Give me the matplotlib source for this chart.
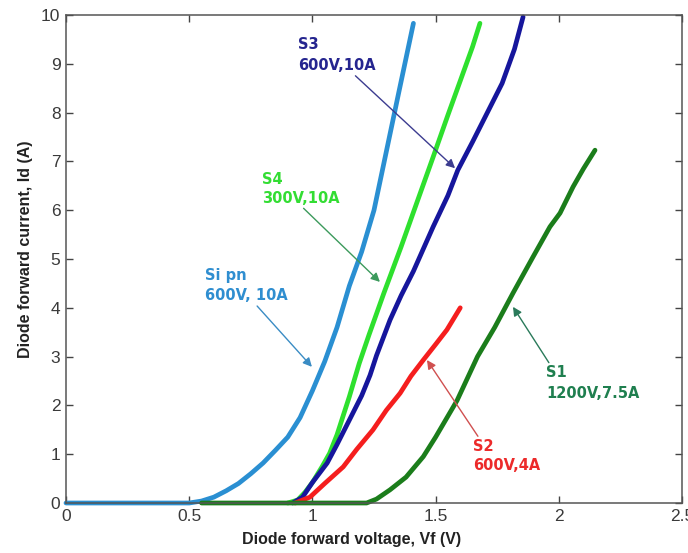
import matplotlib
matplotlib.use('Agg')
import matplotlib.pyplot as plt

# Forward I-V curves (V in volts, I in amps)
si_v = [0.00, 0.50, 0.55, 0.60, 0.65, 0.70, 0.75, 0.80, 0.85, 0.90, 0.95,
        1.00, 1.05, 1.10, 1.15, 1.20, 1.25, 1.30, 1.35, 1.41]
si_i = [0.00, 0.00, 0.04, 0.12, 0.25, 0.40, 0.60, 0.82, 1.08, 1.35, 1.75,
        2.30, 2.90, 3.60, 4.45, 5.15, 6.00, 7.20, 8.40, 9.83]

s4_v = [0.90, 0.94, 0.97, 1.00, 1.04, 1.07, 1.10, 1.15, 1.19, 1.23, 1.29,
        1.36, 1.42, 1.49, 1.55, 1.60, 1.65, 1.68]
s4_i = [0.00, 0.06, 0.22, 0.42, 0.75, 1.02, 1.40, 2.18, 2.86, 3.45, 4.30,
        5.25, 6.10, 7.09, 7.95, 8.65, 9.35, 9.83]

s3_v = [0.92, 0.96, 1.00, 1.06, 1.10, 1.15, 1.20, 1.234, 1.26, 1.315, 1.36,
        1.41, 1.49, 1.55, 1.59, 1.65, 1.70, 1.77, 1.82, 1.855]
s3_i = [0.00, 0.12, 0.42, 0.82, 1.20, 1.70, 2.20, 2.62, 3.02, 3.75, 4.25,
        4.75, 5.66, 6.30, 6.82, 7.40, 7.90, 8.60, 9.30, 9.96]

s2_v = [0.93, 0.99, 1.05, 1.125, 1.18, 1.246, 1.30, 1.356, 1.40, 1.45,
        1.50, 1.546, 1.60]
s2_i = [0.00, 0.12, 0.40, 0.74, 1.10, 1.50, 1.90, 2.25, 2.60, 2.93,
        3.25, 3.55, 4.00]

s1_v = [0.55, 1.22, 1.26, 1.315, 1.38, 1.45, 1.50, 1.587, 1.67, 1.74,
        1.814, 1.895, 1.964, 2.005, 2.058, 2.10, 2.147]
s1_i = [0.00, 0.00, 0.08, 0.27, 0.53, 0.95, 1.35, 2.10, 3.00, 3.60,
        4.30, 5.04, 5.66, 5.94, 6.48, 6.85, 7.23]

x_ticks = [0, 0.5, 1, 1.5, 2, 2.5]
x_tick_labels = ['0', '0.5', '1', '1.5', '2', '2.5']
y_ticks = list(range(0, 11))

C_SI = '#2a8fd2'
C_S4 = '#2ee02e'
C_S3 = '#16169c'
C_S2 = '#f51e1e'
C_S1 = '#1b7d1b'

plt.rcParams['font.family'] = ['Liberation Sans', 'DejaVu Sans']

fig = plt.figure(figsize=(6.88, 5.53), dpi=100)
ax = fig.add_axes([66 / 688, 50 / 553, 616 / 688, 488 / 553])

lw = 3.4
for v, i, c in [(si_v, si_i, C_SI), (s4_v, s4_i, C_S4), (s3_v, s3_i, C_S3),
                (s2_v, s2_i, C_S2), (s1_v, s1_i, C_S1)]:
    ax.plot(v, i, color=c, linewidth=lw, solid_joinstyle='round',
            solid_capstyle='round', clip_on=False)

ax.set_xlim(0, 2.5)
ax.set_ylim(0, 10)
ax.set_xticks(x_ticks)
ax.set_xticklabels(x_tick_labels)
ax.set_yticks(y_ticks)
ax.tick_params(direction='in', top=True, right=True, length=5, width=1,
               colors='#444444', labelsize=12.5, labelcolor='#3a3a3a', pad=4)
for sp in ax.spines.values():
    sp.set_color('#555555')
    sp.set_linewidth(1.1)

ax.set_xlabel('Diode forward voltage, Vf (V)', fontsize=11.5, fontweight='bold',
              color='#222222')
ax.set_ylabel('Diode forward current, Id (A)', fontsize=11.5, fontweight='bold',
              color='#222222')
ax.xaxis.set_label_coords((352 - 66) / 616, -0.06)
ax.yaxis.set_label_coords(-0.054, 0.52)

ann_font = dict(family='DejaVu Sans', fontsize=10.5, fontweight='bold',
                ha='left', va='center')


def arrow(color, relpos):
    return dict(arrowstyle='-|>', color=color, lw=1.0, mutation_scale=13,
                shrinkA=0, shrinkB=0, relpos=relpos)


# text positions: left edge / vertical centre of the two-line block
ax.annotate('S3\n600V,10A', xy=(1.579, 6.86), xytext=(0.942, 9.18),
            color='#25258f', linespacing=1.5,
            arrowprops=arrow('#3c3c90', (0.7, 0.0)), **ann_font)
ax.annotate('S4\n300V,10A', xy=(1.274, 4.53), xytext=(0.795, 6.44),
            color='#33dd33', linespacing=1.3,
            arrowprops=arrow('#3c9a5c', (0.5, 0.0)), **ann_font)
ax.annotate('Si pn\n600V, 10A', xy=(0.998, 2.79), xytext=(0.564, 4.45),
            color='#2f8ed0', linespacing=1.4,
            arrowprops=arrow('#3a8cc4', (0.6, 0.0)), **ann_font)
ax.annotate('S2\n600V,4A', xy=(1.465, 2.93), xytext=(1.652, 0.96),
            color='#ec2a2a', linespacing=1.35,
            arrowprops=arrow('#d05050', (0.1, 1.0)), **ann_font)
ax.annotate('S1\n1200V,7.5A', xy=(1.814, 4.02), xytext=(1.948, 2.45),
            color='#1f7f4f', linespacing=1.5,
            arrowprops=arrow('#2a7a5a', (0.05, 1.0)), **ann_font)

fig.savefig('out.png', dpi=100)
